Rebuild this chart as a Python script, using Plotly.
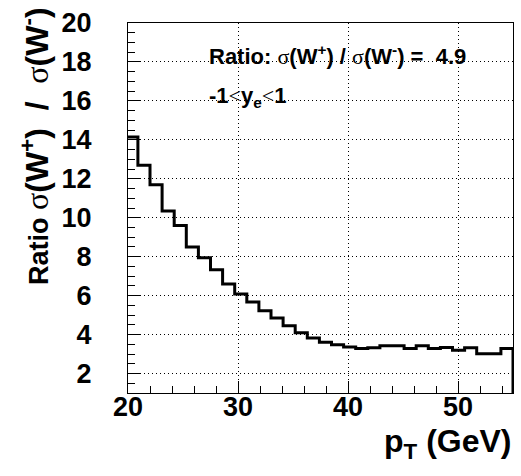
import numpy as np
import plotly.graph_objects as go

# Histogram: 1.1 GeV bins, first visible bin starts at 19.8 GeV
bin_start = 19.8
bin_width = 1.1
ratio = [14.15, 12.7, 11.7, 10.35, 9.6, 8.5, 7.95, 7.33, 6.6, 6.08,
         5.67, 5.23, 4.85, 4.45, 4.1, 3.83, 3.6, 3.48, 3.36, 3.28,
         3.33, 3.42, 3.42, 3.29, 3.43, 3.29, 3.34, 3.2, 3.32, 3.02,
         3.02, 3.29]

y_ticks = [2, 4, 6, 8, 10, 12, 14, 16, 18, 20]
x_ticks = [20, 30, 40, 50]
x_range = [20, 55]
y_range = [1, 20]

edges = np.round(bin_start + bin_width * np.arange(len(ratio) + 1), 3)
xs = list(edges[:-1]) + [edges[-1], edges[-1]]
ys = list(ratio) + [ratio[-1], 0]

W, H = 521, 476
ML, MR, MT, MB = 128, 8, 23, 83
PW, PH = W - ML - MR, H - MT - MB

fig = go.Figure()
fig.add_trace(go.Scatter(x=xs, y=ys, mode="lines", line_shape="hv",
                         line=dict(color="black", width=3), showlegend=False,
                         hoverinfo="skip"))

FONT = "Liberation Sans, Arial, Helvetica, sans-serif"
SIG = "<span style='font-family:Liberation Serif, serif;font-weight:normal'>σ</span>"
LT = "<span style='font-family:Liberation Serif, serif;font-weight:normal'>&lt;</span>"

axis_common = dict(showline=True, linecolor="black", linewidth=1, mirror=True,
                   showgrid=True, gridcolor="black", gridwidth=1, griddash="1px,3px",
                   zeroline=False, ticks="inside", tickcolor="black", ticklen=12,
                   tickwidth=1, tickfont=dict(family=FONT, size=27, color="black", weight="bold"))

fig.update_xaxes(range=x_range, tickvals=x_ticks, ticktext=[str(v) for v in x_ticks],
                 minor=dict(dtick=2, tick0=20, ticks="inside", ticklen=7, tickcolor="black", showgrid=False),
                 ticklabelstandoff=-10, **axis_common)
fig.update_yaxes(range=y_range, tickvals=y_ticks,
                 ticktext=[str(v) + "\u00a0\u00a0\u00a0\u00a0" for v in y_ticks],
                 minor=dict(dtick=0.5, tick0=0, ticks="inside", ticklen=7, tickcolor="black", showgrid=False),
                 **axis_common)

ytitle = ("Ratio <span style='font-size:32px'>" + SIG + "(W<sup>+</sup>)\u00a0\u00a0/\u00a0\u00a0"
          + SIG + "(W<sup>-</sup>)</span>")

annotations = [
    dict(text=f"Ratio: {SIG}(W<sup>+</sup>) / {SIG}(W<sup>-</sup>) =  4.9",
         xref="paper", yref="paper", x=(206.7 - ML) / PW, y=(H - MB - 55) / PH,
         xanchor="left", yanchor="middle", showarrow=False,
         font=dict(family=FONT, size=22, color="black", weight="bold")),
    dict(text=f"-1{LT}y<sub>e</sub>{LT}1",
         xref="paper", yref="paper", x=(206.7 - ML) / PW, y=(H - MB - 97) / PH,
         xanchor="left", yanchor="middle", showarrow=False,
         font=dict(family=FONT, size=22, color="black", weight="bold")),
    dict(text=ytitle,
         xref="paper", yref="paper", x=(35 - ML) / PW, y=1 + (MT - 5) / PH,
         xanchor="center", yanchor="top", textangle=-90, showarrow=False,
         font=dict(family=FONT, size=27, color="black", weight="bold")),
    dict(text="p<sub>T</sub> (GeV)",
         xref="paper", yref="paper", x=1, y=-(443 - (H - MB)) / PH,
         xanchor="right", yanchor="middle", showarrow=False,
         font=dict(family=FONT, size=32, color="black", weight="bold")),
]

fig.update_layout(width=W, height=H, margin=dict(l=ML, r=MR, t=MT, b=MB),
                  paper_bgcolor="white", plot_bgcolor="white",
                  font=dict(family=FONT, color="black"),
                  annotations=annotations, showlegend=False)

fig.write_html("out.html")
